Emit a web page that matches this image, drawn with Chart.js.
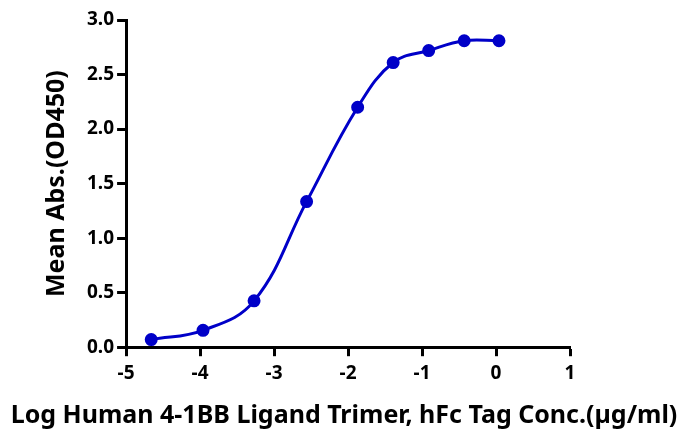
<!DOCTYPE html>
<html>
<head>
<meta charset="utf-8">
<script src="https://cdn.jsdelivr.net/npm/chart.js@4/dist/chart.umd.min.js"></script>
<style>
  html, body { margin: 0; padding: 0; background: #ffffff; }
  #wrap { width: 688px; height: 430px; }
</style>
</head>
<body>
<div id="wrap"><canvas id="elisaChart"></canvas></div>
<script>
// log10 concentration (µg/ml) and mean absorbance at 450 nm
const logConc = [-4.66, -3.96, -3.27, -2.56, -1.87, -1.39, -0.91, -0.43, 0.04];
const meanAbs = [0.07, 0.155, 0.425, 1.335, 2.20, 2.61, 2.72, 2.81, 2.81];

const xTitle = "Log Human 4-1BB Ligand Trimer, hFc Tag Conc.(\u00b5g/ml)";
const yTitle = "Mean Abs.(OD450)";

const azul = "#0000c8";
const fonte = "'Noto Sans', 'Open Sans', sans-serif";

const pontos = logConc.map((x, i) => ({ x: x, y: meanAbs[i] }));

// titulo do eixo x e mais largo que a area do grafico, por isso e desenhado aqui
const tituloX = {
    id: "tituloX",
    afterDraw(chart) {
        const c = chart.ctx;
        c.save();
        c.font = "bold 25px " + fonte;
        c.fillStyle = "#000000";
        c.textAlign = "center";
        c.textBaseline = "alphabetic";
        c.fillText(xTitle, chart.width / 2, 423, 672);
        c.restore();
    }
};

const ctx = document.getElementById("elisaChart").getContext("2d");

new Chart(ctx, {
    type: "scatter",
    data: {
        datasets: [{
            data: pontos,
            showLine: true,
            borderColor: azul,
            borderWidth: 3,
            backgroundColor: azul,
            pointRadius: 5,
            pointHoverRadius: 5,
            tension: 0.4
        }]
    },
    options: {
        responsive: true,
        maintainAspectRatio: false,
        animation: false,
        layout: {
            padding: { top: 20, right: 118, bottom: 39, left: 42 }
        },
        plugins: {
            legend: { display: false },
            tooltip: { enabled: false }
        },
        scales: {
            x: {
                type: "linear",
                min: -5,
                max: 1,
                border: { display: true, color: "#000000", width: 3 },
                grid: {
                    drawOnChartArea: false,
                    drawTicks: true,
                    tickLength: 9,
                    tickWidth: 3,
                    color: "#000000"
                },
                ticks: {
                    stepSize: 1,
                    color: "#000000",
                    padding: 6,
                    font: { family: fonte, size: 19, weight: "bold" }
                },
                title: { display: false }
            },
            y: {
                type: "linear",
                min: 0,
                max: 3,
                border: { display: true, color: "#000000", width: 3 },
                grid: {
                    drawOnChartArea: false,
                    drawTicks: true,
                    tickLength: 9,
                    tickWidth: 3,
                    color: "#000000"
                },
                ticks: {
                    stepSize: 0.5,
                    color: "#000000",
                    padding: 3,
                    font: { family: fonte, size: 19, weight: "bold" },
                    callback: v => v.toFixed(1)
                },
                title: {
                    display: true,
                    text: yTitle,
                    color: "#000000",
                    padding: { top: 0, bottom: 12 },
                    font: { family: fonte, size: 25, weight: "bold" }
                }
            }
        }
    },
    plugins: [tituloX]
});
</script>
</body>
</html>
